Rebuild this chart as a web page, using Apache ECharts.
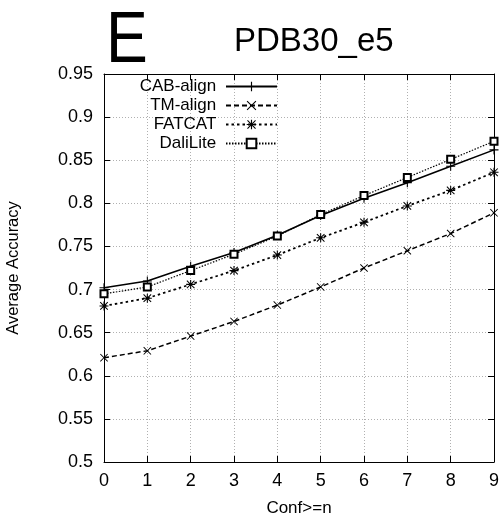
<!DOCTYPE html>
<html>
<head>
<meta charset="utf-8">
<script src="https://cdn.jsdelivr.net/npm/echarts@6/dist/echarts.min.js"></script>
<style>
  html, body { margin: 0; padding: 0; background: #fff; }
  #chart { width: 501px; height: 521px; }
</style>
</head>
<body>
<div id="chart"></div>
<script>
// data
const confLevels = ["0", "1", "2", "3", "4", "5", "6", "7", "8", "9"];
const cabAlign = [0.702, 0.710, 0.727, 0.743, 0.763, 0.786, 0.806, 0.824, 0.843, 0.862];
const tmAlign  = [0.621, 0.629, 0.646, 0.663, 0.682, 0.703, 0.725, 0.745, 0.765, 0.789];
const fatcat   = [0.681, 0.690, 0.706, 0.722, 0.740, 0.760, 0.778, 0.797, 0.815, 0.836];
const daliLite = [0.695, 0.703, 0.722, 0.741, 0.762, 0.787, 0.809, 0.830, 0.851, 0.872];

const FONT = "Liberation Sans";

// marker shapes
const plusPath = "path://M0,4.4H10V5.6H0Z M4.4,0H5.6V10H4.4Z";
const crossPath = "path://M0.8,0L5,4.2L9.2,0L10,0.8L5.8,5L10,9.2L9.2,10L5,5.8L0.8,10L0,9.2L4.2,5L0,0.8Z";
const starPath = "path://M0,4.4H10V5.6H0Z M4.4,0H5.6V10H4.4Z M1.2,0.4L5,4.2L8.8,0.4L9.6,1.2L5.8,5L9.6,8.8L8.8,9.6L5,5.8L1.2,9.6L0.4,8.8L4.2,5L0.4,1.2Z";

const chart = echarts.init(document.getElementById("chart"));

const mirrorAxis = {
  axisLine: { show: true, lineStyle: { color: "#000", width: 1 } },
  axisTick: { show: true, inside: true, length: 6, lineStyle: { color: "#000" } },
  axisLabel: { show: false },
  splitLine: { show: false }
};

chart.setOption({
  animation: false,
  backgroundColor: "#fff",
  textStyle: { fontFamily: FONT, color: "#000" },
  title: {
    text: "PDB30_e5",
    left: 234,
    top: 25,
    padding: 0,
    textStyle: { fontFamily: FONT, fontSize: 33, fontWeight: "normal", color: "#000" }
  },
  graphic: [
    {
      // panel letter, a bit narrower than the plain font
      type: "text",
      x: 106,
      y: 6,
      scaleX: 0.87,
      style: { text: "E", font: "72px 'Liberation Sans'", fill: "#000" }
    }
  ],
  legend: {
    orient: "vertical",
    align: "right",
    right: 223,
    top: 78,
    padding: 0,
    itemWidth: 51,
    itemHeight: 12,
    itemGap: 2,
    formatter: name => name + " ",
    textStyle: { fontFamily: FONT, fontSize: 17, color: "#000" },
    data: ["CAB-align", "TM-align", "FATCAT", "DaliLite"]
  },
  grid: { left: 104, right: 7, top: 74, bottom: 59, outerBoundsMode: "none" },
  xAxis: [
    {
      type: "category",
      data: confLevels,
      boundaryGap: false,
      name: "Conf>=n",
      nameLocation: "middle",
      nameGap: 38,
      nameTextStyle: { fontFamily: FONT, fontSize: 17, color: "#000" },
      axisLine: { show: true, lineStyle: { color: "#000", width: 1 } },
      axisTick: { show: true, inside: true, length: 6, alignWithLabel: true, lineStyle: { color: "#000" } },
      axisLabel: { fontFamily: FONT, fontSize: 18, color: "#000", margin: 10, showMinLabel: true, showMaxLabel: true },
      splitLine: { show: true, lineStyle: { color: "#b0b0b0", type: [1, 2], width: 1 } }
    },
    Object.assign({ type: "category", data: confLevels, boundaryGap: false, position: "top" }, mirrorAxis)
  ],
  yAxis: [
    {
      type: "value",
      min: 0.5,
      max: 0.95,
      interval: 0.05,
      name: "Average Accuracy",
      nameLocation: "middle",
      nameGap: 82,
      nameTextStyle: { fontFamily: FONT, fontSize: 16.5, color: "#000" },
      axisLine: { show: true, lineStyle: { color: "#000", width: 1 } },
      axisTick: { show: true, inside: true, length: 6, lineStyle: { color: "#000" } },
      axisLabel: { fontFamily: FONT, fontSize: 18, color: "#000", margin: 11 },
      splitLine: { show: true, lineStyle: { color: "#b0b0b0", type: [1, 2], width: 1 } }
    },
    Object.assign({ type: "value", min: 0.5, max: 0.95, interval: 0.05, position: "right" }, mirrorAxis)
  ],
  series: [
    {
      name: "CAB-align",
      type: "line",
      data: cabAlign,
      symbol: plusPath,
      symbolSize: 9,
      color: "#000",
      itemStyle: { color: "#000" },
      lineStyle: { color: "#000", width: 1.6, type: "solid" }
    },
    {
      name: "TM-align",
      type: "line",
      data: tmAlign,
      symbol: crossPath,
      symbolSize: 8,
      color: "#000",
      itemStyle: { color: "#000" },
      lineStyle: { color: "#000", width: 1.5, type: [5, 3] }
    },
    {
      name: "FATCAT",
      type: "line",
      data: fatcat,
      symbol: starPath,
      symbolSize: 9,
      color: "#000",
      itemStyle: { color: "#000" },
      lineStyle: { color: "#000", width: 1.8, type: [2.5, 3] }
    },
    {
      name: "DaliLite",
      type: "line",
      data: daliLite,
      symbol: "emptyRect",
      symbolSize: 7,
      color: "#000",
      itemStyle: { color: "#000", borderColor: "#000", borderWidth: 1.3 },
      lineStyle: { color: "#000", width: 1.2, type: [1.5, 1.5] }
    }
  ]
});
</script>
</body>
</html>
